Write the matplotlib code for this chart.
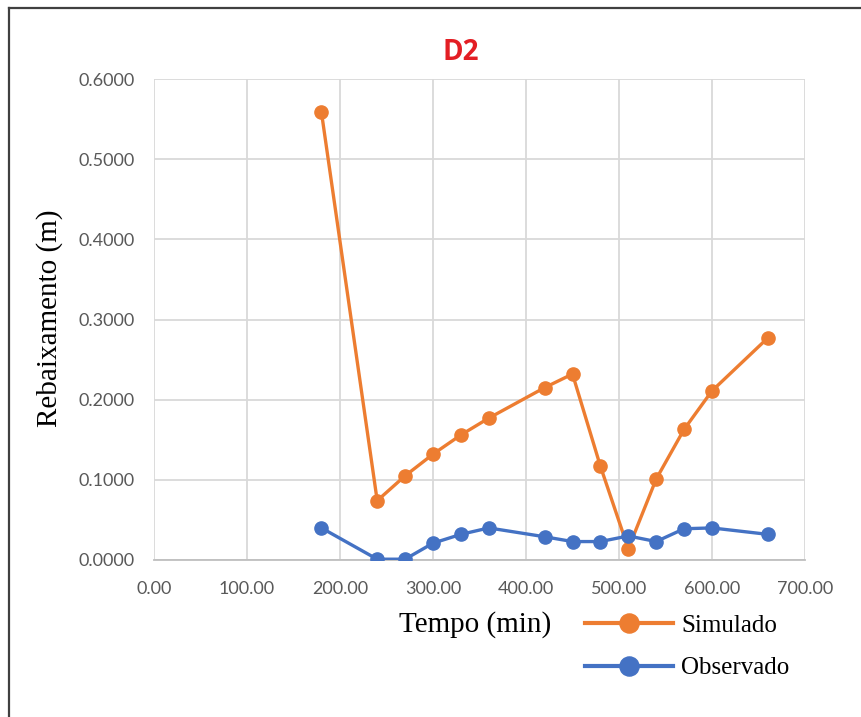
import matplotlib.pyplot as plt
from matplotlib.lines import Line2D

# Rebaixamento no poço D2
tempo = [180, 240, 270, 300, 330, 360, 420, 450, 480, 510, 540, 570, 600, 660]
simulado = [0.559, 0.074, 0.105, 0.132, 0.156, 0.177, 0.215, 0.232, 0.117, 0.014,
            0.101, 0.163, 0.211, 0.277]
observado = [0.040, 0.001, 0.001, 0.021, 0.032, 0.040, 0.029, 0.023, 0.023, 0.030,
             0.023, 0.039, 0.040, 0.032]
x_ticks = [0, 100, 200, 300, 400, 500, 600, 700]
y_ticks = [0.0, 0.1, 0.2, 0.3, 0.4, 0.5, 0.6]

laranja = '#ED7D31'
azul = '#4472C4'
cinza = '#595959'

fig = plt.figure(figsize=(8.61, 7.17), dpi=100)
ax = fig.add_axes([154 / 861, 1 - 560 / 717, (805 - 154) / 861, (560 - 79) / 717])

ax.plot(tempo, simulado, color=laranja, lw=2.4, marker='o', ms=9.5, label='Simulado', zorder=3)
ax.plot(tempo, observado, color=azul, lw=2.4, marker='o', ms=9.5, label='Observado', zorder=3)

ax.set_xlim(0, 700)
ax.set_ylim(0, 0.6)
ax.set_xticks(x_ticks)
ax.set_yticks(y_ticks)
ax.set_xticklabels([f'{v:.2f}' for v in x_ticks])
ax.set_yticklabels([f'{v:.4f}' for v in y_ticks])
ax.tick_params(length=0, labelsize=13, labelcolor=cinza)
ax.tick_params(axis='x', pad=15)
ax.tick_params(axis='y', pad=14)
for lab in ax.get_xticklabels() + ax.get_yticklabels():
    lab.set_family('Lato')

ax.grid(True, color='#D9D9D9', lw=1.3)
ax.set_axisbelow(True)
for s in ['top', 'right', 'left']:
    ax.spines[s].set_visible(False)
ax.spines['bottom'].set_color('#BFBFBF')
ax.spines['bottom'].set_linewidth(1.3)

fig.text(461 / 861, 1 - 53 / 717, 'D2', color='#E31E24', fontsize=20, fontweight='bold',
         family='Open Sans', ha='center', va='center')
fig.text(475 / 861, 1 - 625 / 717, 'Tempo (min)', fontsize=21, family='Liberation Serif',
         ha='center', va='center')
fig.text(50 / 861, 1 - 318 / 717, 'Rebaixamento (m)', fontsize=21, family='Liberation Serif',
         rotation=90, ha='center', va='center')

leg = fig.legend(loc='upper left', bbox_to_anchor=(562 / 861, 1 - 592 / 717), frameon=False,
                 prop={'family': 'Liberation Serif', 'size': 18}, handlelength=3.55,
                 handletextpad=0.32, labelspacing=0.8, markerscale=1.45)
for h in leg.legend_handles:
    h.set_linewidth(3.0)

# moldura da área do gráfico
fig.add_artist(Line2D([9 / 861, 9 / 861], [0, 1 - 8 / 717], color='#404040', lw=1.6))
fig.add_artist(Line2D([9 / 861, 1], [1 - 8 / 717, 1 - 8 / 717], color='#404040', lw=1.6))

fig.savefig('out.png', dpi=100)
